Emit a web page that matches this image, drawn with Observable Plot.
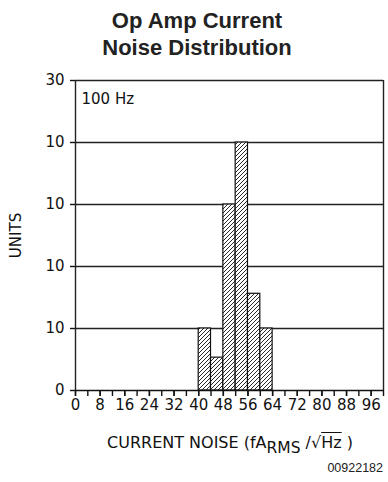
<!DOCTYPE html>
<html>
<head>
<meta charset="utf-8">
<script src="https://cdn.jsdelivr.net/npm/d3@7"></script>
<script src="https://cdn.jsdelivr.net/npm/@observablehq/plot@0.6"></script>
<style>
  html, body { margin: 0; padding: 0; background: #fff; }
  #wrap { position: relative; width: 388px; height: 482px; overflow: hidden; }
  #title { position: absolute; left: 0; top: 8px; width: 394px; text-align: center;
    font-family: "Liberation Sans", Arial, sans-serif; font-weight: bold; font-size: 22px;
    line-height: 26.5px; color: #222; }
  #chart { position: absolute; left: 0; top: 60px; }
  #xlabel { position: absolute; left: 0; width: 460px; text-align: center; top: 433px;
    font-family: "DejaVu Sans", sans-serif;
    font-size: 16px; color: #111; white-space: nowrap; }
  #xlabel sub { font-size: 15.5px; vertical-align: -5px; line-height: 0; }
  #xlabel .rad { text-decoration: overline; }
  #code { position: absolute; right: 5px; top: 461px; font-family: "Liberation Sans", Arial, sans-serif;
    font-size: 12.5px; color: #222; }
  #chart svg text { font-size: 15px; }
</style>
</head>
<body>
<div id="wrap">
  <div id="title">Op Amp Current<br>Noise Distribution</div>
  <div id="chart"></div>
  <div id="xlabel">CURRENT NOISE (fA<sub>RMS</sub> /√<span class="rad">Hz</span> )</div>
  <div id="code">00922182</div>
</div>
<script>
// ---- data ----
const binStart = [40, 44, 48, 52, 56, 60];
const binEnd   = [44, 48, 52, 56, 60, 64];
const counts   = [10, 5.3, 30, 40, 15.6, 10];

const yTickValues = [0, 10, 20, 30, 40, 50];
const yTickLabels = ["0", "10", "10", "10", "10", "30"];
const gridValues  = [10, 20, 30, 40, 50];
const xTickLabels = [0, 8, 16, 24, 32, 40, 48, 56, 64, 72, 80, 88, 96];
const xMinorTicks = [0, 4, 8, 12, 16, 20, 24, 28, 32, 36, 40, 44, 48, 52, 56, 60, 64, 68, 72, 76, 80, 84, 88, 92, 96, 100];
const frameX = [0, 100];
const note = ["100 Hz"];
const yLabel = "UNITS";

const bars = binStart.map((s, i) => ({x1: s, x2: binEnd[i], y: counts[i]}));

const chart = Plot.plot({
  width: 388,
  height: 355,
  marginTop: 20,
  marginBottom: 25,
  marginLeft: 75,
  marginRight: 5,
  style: {fontFamily: "'DejaVu Sans', sans-serif", fontSize: "15px", color: "#111", background: "#fff"},
  x: {domain: [0, 100]},
  y: {domain: [0, 50]},
  marks: [
    Plot.ruleY(gridValues, {stroke: "#222", strokeWidth: 1.4}),
    Plot.rectY(bars, {x1: "x1", x2: "x2", y: "y", fill: "url(#hatch)", stroke: "#111", strokeWidth: 1.2, inset: 0}),
    Plot.ruleY([0], {stroke: "#111", strokeWidth: 1.4}),
    Plot.ruleX(frameX, {stroke: "#222", strokeWidth: 1.4}),
    Plot.axisY({ticks: yTickValues, tickFormat: (d) => yTickLabels[yTickValues.indexOf(d)], tickSize: 5, tickPadding: 6, strokeWidth: 1.4,
      label: yLabel, labelAnchor: "center", labelArrow: "none", labelOffset: 65}),
    Plot.axisX({ticks: xMinorTicks, tickFormat: () => "", tickSize: 6, strokeWidth: 1.4, label: null}),
    Plot.axisX({ticks: xTickLabels, tickSize: 6, tickPadding: 3, strokeWidth: 1.4, label: null}),
    Plot.text(note, {frameAnchor: "top-left", dx: 6, dy: 13, textAnchor: "start"})
  ]
});

// hatch pattern for the bars
const svg = d3.select(chart);
const defs = svg.insert("defs", ":first-child");
const pat = defs.append("pattern")
  .attr("id", "hatch").attr("patternUnits", "userSpaceOnUse")
  .attr("width", 4).attr("height", 4);
pat.append("rect").attr("width", 4).attr("height", 4).attr("fill", "#fff");
pat.append("path").attr("d", "M-1,1 l2,-2 M0,4 l4,-4 M3,5 l2,-2")
  .attr("stroke", "#111").attr("stroke-width", 0.9);

document.getElementById("chart").appendChild(chart);
</script>
</body>
</html>
